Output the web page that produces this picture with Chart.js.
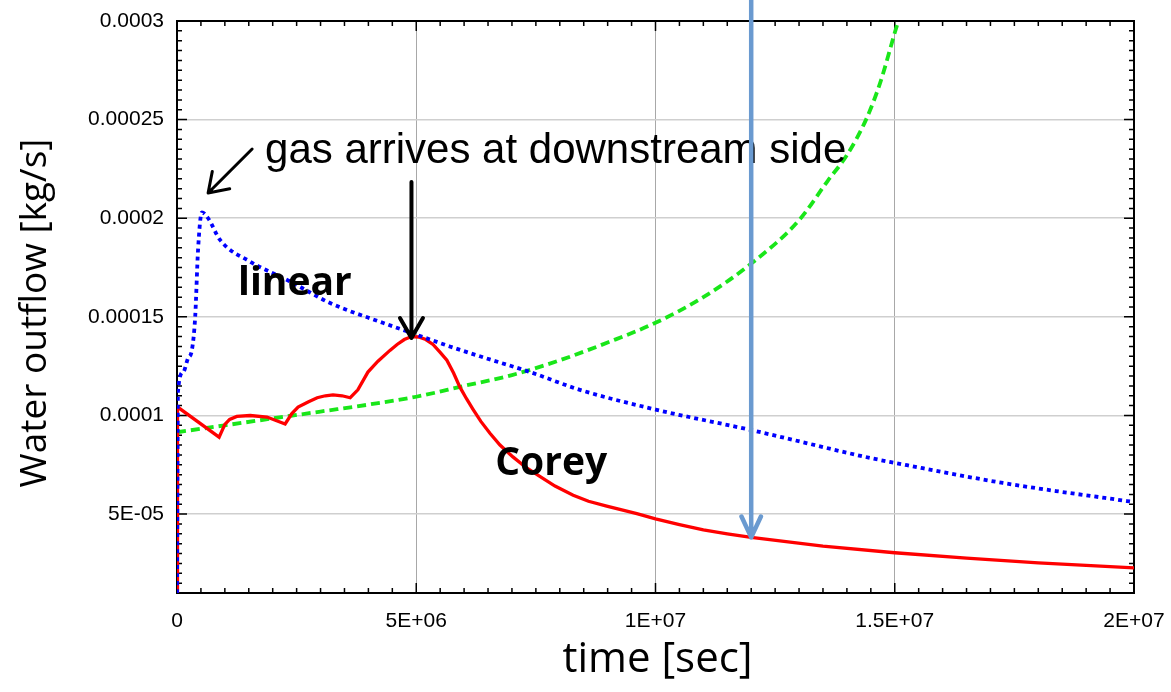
<!DOCTYPE html>
<html>
<head>
<meta charset="utf-8">
<script src="https://cdn.jsdelivr.net/npm/chart.js@4.4.0/dist/chart.umd.min.js"></script>
<style>
    body { margin: 0; background: #fff; }
    #outflowChart { display: block; }
</style>
</head>
<body>
<canvas id="outflowChart" width="1171" height="692"></canvas>
<script>
// values: time [sec], water outflow [kg/s]
const coreyTime = [0, 1e4, 0.88e6, 1.0e6, 1.1e6, 1.25e6, 1.53e6, 1.88e6, 2.26e6, 2.4e6, 2.53e6, 2.75e6, 2.93e6, 3.1e6,
    3.26e6, 3.45e6, 3.62e6, 3.78e6, 3.99e6, 4.2e6, 4.45e6, 4.6e6, 4.75e6, 4.9e6, 5.05e6, 5.2e6, 5.35e6, 5.5e6, 5.64e6,
    5.78e6, 5.91e6, 6.05e6, 6.19e6, 6.35e6, 6.54e6, 6.75e6, 7.02e6, 7.3e6, 7.59e6, 7.9e6, 8.28e6, 8.6e6, 8.98e6,
    9.61e6, 1.0e7, 1.05e7, 1.1e7, 1.15e7, 1.2e7, 1.35e7, 1.5e7, 1.65e7, 1.8e7, 2.0e7];
const coreyFlow = [1e-5, 1.043e-4, 8.9e-5, 9.55e-5, 9.8e-5, 9.95e-5, 1.0e-4, 9.92e-5, 9.57e-5, 1.01e-4, 1.043e-4, 1.07e-4, 1.09e-4, 1.1e-4,
    1.104e-4, 1.1e-4, 1.09e-4, 1.13e-4, 1.22e-4, 1.275e-4, 1.33e-4, 1.36e-4, 1.385e-4, 1.40e-4, 1.398e-4, 1.385e-4, 1.36e-4, 1.32e-4, 1.28e-4,
    1.215e-4, 1.145e-4, 1.085e-4, 1.03e-4, 9.7e-5, 9.1e-5, 8.5e-5, 7.9e-5, 7.35e-5, 6.9e-5, 6.42e-5, 5.96e-5, 5.65e-5, 5.4e-5,
    5.02e-5, 4.76e-5, 4.47e-5, 4.2e-5, 4.0e-5, 3.82e-5, 3.38e-5, 3.04e-5, 2.77e-5, 2.53e-5, 2.27e-5];

const linearTime = [0, 2e4, 0.13e6, 0.23e6, 0.31e6, 0.38e6, 0.44e6, 0.52e6, 0.65e6, 0.9e6, 1.53e6, 2.36e6, 3.2e6, 4.3e6,
    5.0e6, 5.7e6, 6.33e6, 7.38e6, 8.42e6, 1.0e7, 1.2e7, 1.448e7, 1.5e7, 1.726e7, 2.0e7];
const linearFlow = [1e-5, 1.12e-4, 1.22e-4, 1.29e-4, 1.33e-4, 1.5e-4, 1.84e-4, 2.03e-4, 2.0e-4, 1.89e-4, 1.78e-4, 1.68e-4, 1.57e-4, 1.47e-4,
    1.41e-4, 1.35e-4, 1.30e-4, 1.22e-4, 1.13e-4, 1.03e-4, 9.26e-5, 7.85e-5, 7.6e-5, 6.58e-5, 5.61e-5];

const dashedTime = [0, 1e6, 2e6, 3e6, 4e6, 5e6, 6e6, 7e6, 8e6, 9e6, 1.0e7, 1.1e7, 1.2e7, 1.3e7, 1.36e7, 1.4e7,
    1.44e7, 1.47e7, 1.5e7, 1.51e7];
const dashedFlow = [9.15e-5, 9.5e-5, 9.85e-5, 1.02e-4, 1.055e-4, 1.095e-4, 1.15e-4, 1.205e-4, 1.28e-4, 1.37e-4, 1.47e-4, 1.6e-4,
    1.77e-4, 1.99e-4, 2.19e-4, 2.32e-4, 2.5e-4, 2.69e-4, 2.94e-4, 3.02e-4];

const xTicks = [0, 5e6, 1e7, 1.5e7, 2e7];
const xTickLabels = ['0', '5E+06', '1E+07', '1.5E+07', '2E+07'];
const yTicks = [5e-5, 1e-4, 1.5e-4, 2e-4, 2.5e-4, 3e-4];
const yTickLabels = ['5E-05', '0.0001', '0.00015', '0.0002', '0.00025', '0.0003'];

function toPoints(xs, ys) {
    return xs.map((x, i) => ({ x: x, y: ys[i] }));
}

function drawArrow(ctx, x1, y1, x2, y2, head, spread, color, width) {
    ctx.save();
    ctx.strokeStyle = color;
    ctx.lineWidth = width;
    ctx.lineCap = 'round';
    ctx.lineJoin = 'round';
    ctx.beginPath();
    ctx.moveTo(x1, y1);
    ctx.lineTo(x2, y2);
    let a = Math.atan2(y1 - y2, x1 - x2);
    ctx.moveTo(x2 + head * Math.cos(a + spread), y2 + head * Math.sin(a + spread));
    ctx.lineTo(x2, y2);
    ctx.lineTo(x2 + head * Math.cos(a - spread), y2 + head * Math.sin(a - spread));
    ctx.stroke();
    ctx.restore();
}

// black frame with inward major/minor ticks on all four sides
const frameTicks = {
    id: 'frameTicks',
    beforeDatasetsDraw(chart) {
        const { ctx, chartArea: a, scales: { x, y } } = chart;
        ctx.save();
        ctx.strokeStyle = '#000';
        ctx.lineWidth = 1.5;
        ctx.beginPath();
        for (let i = 0; i <= 40; i++) {
            let px = x.getPixelForValue(i * 5e5);
            let len = i % 10 === 0 ? 10 : 5;
            ctx.moveTo(px, a.bottom); ctx.lineTo(px, a.bottom - len);
            ctx.moveTo(px, a.top); ctx.lineTo(px, a.top + len);
        }
        for (let i = 2; i <= 60; i++) {
            let py = y.getPixelForValue(i * 5e-6);
            let len = i % 10 === 0 ? 10 : 5;
            ctx.moveTo(a.left, py); ctx.lineTo(a.left + len, py);
            ctx.moveTo(a.right, py); ctx.lineTo(a.right - len, py);
        }
        ctx.stroke();
        ctx.lineWidth = 2;
        ctx.strokeRect(a.left, a.top, a.right - a.left, a.bottom - a.top);
        ctx.restore();
    }
};

const annotations = {
    id: 'annotations',
    afterDraw(chart) {
        const { ctx, chartArea: a, scales: { x, y } } = chart;
        ctx.save();
        ctx.fillStyle = '#000';
        ctx.textBaseline = 'alphabetic';

        ctx.font = '42px "Liberation Sans", Arial, sans-serif';
        ctx.textAlign = 'left';
        ctx.fillText('gas arrives at downstream side', x.getPixelForValue(1.84e6), y.getPixelForValue(2.28e-4));

        ctx.font = 'bold 39px "Open Sans", sans-serif';
        ctx.fillText('linear', x.getPixelForValue(1.275e6), y.getPixelForValue(1.611e-4));
        ctx.fillText('Corey', x.getPixelForValue(6.65e6), y.getPixelForValue(6.98e-5));

        // axis titles
        ctx.font = '42px "Open Sans", sans-serif';
        ctx.textAlign = 'center';
        ctx.fillText('time [sec]', (a.left + a.right) / 2 + 2, 672);

        ctx.save();
        ctx.translate(46, 313);
        ctx.rotate(-Math.PI / 2);
        ctx.font = '37px "Open Sans", sans-serif';
        ctx.fillText('Water outflow [kg/s]', 0, 0);
        ctx.restore();
        ctx.restore();

        let deg = Math.PI / 180;
        drawArrow(ctx, x.getPixelForValue(1.57e6), y.getPixelForValue(2.351e-4),
            x.getPixelForValue(0.65e6), y.getPixelForValue(2.128e-4), 22, 34 * deg, '#000', 3);
        drawArrow(ctx, x.getPixelForValue(4.9e6), y.getPixelForValue(2.184e-4),
            x.getPixelForValue(4.9e6), y.getPixelForValue(1.393e-4), 23, 30 * deg, '#000', 4);
        drawArrow(ctx, x.getPixelForValue(1.2e7), 0,
            x.getPixelForValue(1.2e7), y.getPixelForValue(3.82e-5), 23, 25 * deg, '#6a9ad0', 4.5);
    }
};

let ctx = document.getElementById('outflowChart').getContext('2d');
new Chart(ctx, {
    type: 'line',
    data: {
        datasets: [{
            label: 'linear',
            data: toPoints(linearTime, linearFlow),
            borderColor: '#0000ff',
            borderWidth: 3.8,
            borderDash: [4, 4],
            cubicInterpolationMode: 'monotone',
            pointRadius: 0,
            fill: false
        }, {
            label: 'Corey',
            data: toPoints(coreyTime, coreyFlow),
            borderColor: '#ff0000',
            borderWidth: 3.3,
            tension: 0,
            pointRadius: 0,
            fill: false
        }, {
            label: 'dashed',
            data: toPoints(dashedTime, dashedFlow),
            borderColor: '#19e619',
            borderWidth: 3.8,
            borderDash: [9, 5],
            cubicInterpolationMode: 'monotone',
            pointRadius: 0,
            fill: false
        }]
    },
    options: {
        responsive: false,
        animation: false,
        devicePixelRatio: 1,
        layout: {
            padding: { left: 0, right: 37, top: 21, bottom: 0 }
        },
        plugins: {
            legend: { display: false },
            tooltip: { enabled: false }
        },
        scales: {
            x: {
                type: 'linear',
                min: 0,
                max: 2e7,
                afterBuildTicks: function (scale) {
                    scale.ticks = xTicks.map(v => ({ value: v }));
                },
                afterFit: function (scale) {
                    scale.height = 99;
                    scale.paddingLeft = 0;
                    scale.paddingRight = 0;
                },
                grid: {
                    color: '#a8a8a8',
                    lineWidth: 1,
                    drawTicks: false
                },
                border: { display: false },
                ticks: {
                    autoSkip: false,
                    maxRotation: 0,
                    padding: 16,
                    color: '#000',
                    font: { family: '"Liberation Sans", Arial, sans-serif', size: 21 },
                    callback: function (value) {
                        let i = xTicks.indexOf(value);
                        return i >= 0 ? xTickLabels[i] : '';
                    }
                }
            },
            y: {
                min: 1e-5,
                max: 3e-4,
                afterBuildTicks: function (scale) {
                    scale.ticks = yTicks.map(v => ({ value: v }));
                },
                afterFit: function (scale) {
                    scale.width = 177;
                    scale.paddingTop = 0;
                    scale.paddingBottom = 0;
                },
                grid: {
                    color: '#cfcfcf',
                    lineWidth: 1.5,
                    drawTicks: false
                },
                border: { display: false },
                ticks: {
                    autoSkip: false,
                    padding: 13,
                    color: '#000',
                    font: { family: '"Liberation Sans", Arial, sans-serif', size: 21 },
                    callback: function (value) {
                        let i = yTicks.indexOf(value);
                        return i >= 0 ? yTickLabels[i] : '';
                    }
                }
            }
        }
    },
    plugins: [frameTicks, annotations]
});
</script>
</body>
</html>
